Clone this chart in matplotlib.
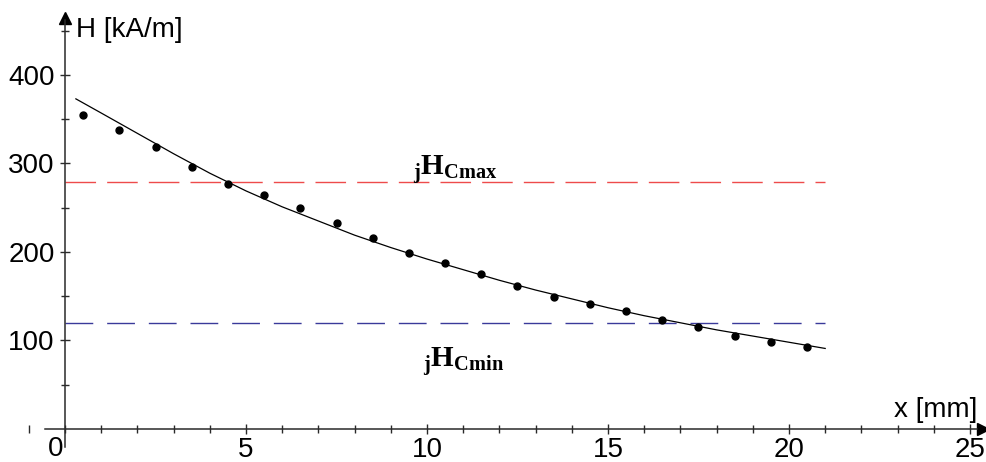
import matplotlib
matplotlib.use("Agg")
import matplotlib.pyplot as plt
from matplotlib.ticker import MultipleLocator, FixedLocator

# ---- data ----
dot_x = [0.5, 1.5, 2.5, 3.5, 4.5, 5.5, 6.5, 7.5, 8.5, 9.5, 10.5,
         11.5, 12.5, 13.5, 14.5, 15.5, 16.5, 17.5, 18.5, 19.5, 20.5]
dot_y = [355, 338, 319, 296, 277, 264, 250, 233, 216, 199, 188,
         175, 162, 149, 141, 133, 123, 115, 105, 98, 93]

curve_x = [0.3, 1, 2, 3, 4, 5, 6, 7, 8, 9, 10, 11, 12, 13, 14, 15,
           16, 17, 18, 19, 20, 21]
curve_y = [373, 357, 334, 311, 289, 269, 251, 235, 219, 205, 192, 180,
           168, 157, 147, 137, 128, 120, 112, 105, 98, 91]

hc_max = 279
hc_min = 120
line_x = [0, 21]

x_ticks = [5, 10, 15, 20, 25]
y_ticks = [100, 200, 300, 400]
x_label = "x [mm]"
y_label = "H [kA/m]"
max_label = r"${}_{\mathbf{j}}\mathbf{H}_{\mathbf{Cmax}}$"
min_label = r"${}_{\mathbf{j}}\mathbf{H}_{\mathbf{Cmin}}$"

plt.rcParams['font.family'] = ['Liberation Sans', 'DejaVu Sans']
plt.rcParams['mathtext.fontset'] = 'custom'
plt.rcParams['mathtext.bf'] = 'Liberation Serif:bold'
plt.rcParams['mathtext.rm'] = 'Liberation Serif'

fig = plt.figure(figsize=(9.87, 4.62), dpi=100)
ax = fig.add_axes([0, 0, 1, 1])
ax.set_xlim(-1.796, 25.47)
ax.set_ylim(-37.3, 484.7)

axcol = '#2a2a2a'
for s in ['top', 'right']:
    ax.spines[s].set_visible(False)
ax.spines['left'].set_position(('data', 0))
ax.spines['bottom'].set_position(('data', 0))
ax.spines['left'].set_bounds(-20.5, 462)
ax.spines['bottom'].set_bounds(-0.55, 25.2)
for s in ['left', 'bottom']:
    ax.spines[s].set_color(axcol)
    ax.spines[s].set_linewidth(1.1)

# arrow heads
ax.plot([0], [464], marker='^', color='black', markersize=8, clip_on=False)
ax.plot([25.35], [0], marker='>', color='black', markersize=8, clip_on=False)

ax.xaxis.set_major_locator(FixedLocator(x_ticks))
ax.yaxis.set_major_locator(FixedLocator(y_ticks))
ax.xaxis.set_minor_locator(MultipleLocator(1))
ax.yaxis.set_minor_locator(FixedLocator([50, 150, 250, 350, 450]))
ax.tick_params(which='both', direction='inout', color=axcol, width=1.0)
ax.tick_params(which='major', length=7, labelsize=20)
ax.tick_params(which='minor', length=6)
ax.tick_params(axis='x', pad=2)
ax.tick_params(axis='y', pad=4)
ax.text(-0.05, -8, "0", fontsize=20, ha='right', va='top')

# reference lines
l1, = ax.plot(line_x, [hc_max, hc_max], color='#ee4b4b', linewidth=1.0)
l1.set_dashes((22, 8))
l2, = ax.plot(line_x, [hc_min, hc_min], color='#3a3a9a', linewidth=1.0)
l2.set_dashes((20, 10))

# fitted curve and measured points
ax.plot(curve_x, curve_y, color='black', linewidth=0.9)
ax.plot(dot_x, dot_y, 'o', color='black', markersize=5)

ax.text(0.3, 443, y_label, fontsize=20, ha='left', va='baseline')
ax.text(22.9, 13.5, x_label, fontsize=20, ha='left', va='baseline')
ax.text(9.6, 287, max_label, fontsize=21, ha='left', va='baseline')
ax.text(9.9, 70, min_label, fontsize=21, ha='left', va='baseline')

fig.savefig("out.png", dpi=100)
